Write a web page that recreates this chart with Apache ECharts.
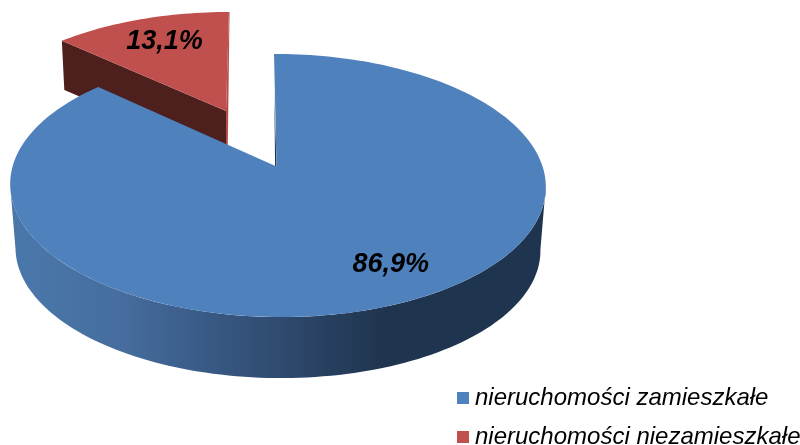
<!DOCTYPE html>
<html><head><meta charset="utf-8">
<style>html,body{margin:0;padding:0;background:#fff}#c{width:800px;height:445px}</style>
<script src="https://cdn.jsdelivr.net/npm/echarts@6/dist/echarts.min.js"></script>
</head><body><div id="c"></div>
<script>
const categories = ['nieruchomości zamieszkałe', 'nieruchomości niezamieszkałe'];
const values = [86.9, 13.1];
const topColors = ['#4f81bd', '#c0504d'];

const total = values.reduce((a, b) => a + b, 0);
const K = 0.1445;
const views = [
  {cx: 276.5, cy: 166.5, a: 265, b: 128.8, shear: -0.022, mx: 0.004, wallDy: 64, wallScale: 0.98, labelR: 0.77, labelDx: 21, labelDy: -3},
  {cx: 226, cy: 111, a: 249, b: 113.3, shear: 0.03, mx: 0, wallDy: 48, wallScale: 0.985, labelR: 0.72, labelDx: 2, labelDy: -1}
];
function project(v, deg, r, wall) {
  const t = deg * Math.PI / 180, x = r * Math.sin(t), y = r * Math.cos(t), D = 1 + K * y - v.mx * x;
  const s = wall ? v.wallScale : 1, Y = v.b * y / D * s, X = v.a * x / D * s;
  return [v.cx + X + v.shear * Y, v.cy - Y + (wall ? v.wallDy : 0)];
}
function arc(v, from, to, wall) {
  const pts = [], n = Math.max(2, Math.ceil(Math.abs(to - from) / 1.5));
  for (let i = 0; i <= n; i++) pts.push(project(v, from + (to - from) * i / n, 1, wall));
  return pts;
}
const wallGradient = {type: 'linear', x: 0, y: 0, x2: 1, y2: 0, colorStops: [
  {offset: 0, color: '#4a78ab'}, {offset: 0.2, color: '#466e9f'}, {offset: 0.35, color: '#3a5c88'},
  {offset: 0.5, color: '#2f4b70'}, {offset: 0.7, color: '#1f344e'}, {offset: 1, color: '#1f344e'}]};

function renderer(idx) {
  return function (params, api) {
    const v = views[idx];
    const start = values.slice(0, idx).reduce((a, b) => a + b, 0) / total * 360;
    const end = start + api.value(0) / total * 360;
    const apex = [v.cx, v.cy];
    const kids = [];
    if (idx === 0) {
      const w = Math.acos(-K) * 180 / Math.PI;
      const front = arc(v, w, 360 - w, false).concat(arc(v, 360 - w, w, true));
      kids.push({type: 'polygon', shape: {points: front}, style: {fill: wallGradient}});
      const top0 = project(v, start, 1, false);
      kids.push({type: 'polygon', shape: {points: [[top0[0] + 0.3, top0[1] + 40], apex, [apex[0] - 1.4, apex[1]]]}, style: {fill: '#1f344e'}});
    } else {
      const corner = project(v, start, 1, false), cornerB = project(v, start, 1, true);
      const apexB = project(v, start, 0, true);
      kids.push({type: 'polygon', shape: {points: [corner, apex, apexB, cornerB]}, style: {fill: '#4d1f1d'}});
      const tip = project(v, end, 1, false);
      kids.push({type: 'polygon', shape: {points: [tip, [tip[0] + 0.6, tip[1]], [apex[0] + 1.6, apexB[1]], [apex[0], apexB[1]], apex]}, style: {fill: '#b84c49'}});
    }
    kids.push({type: 'polygon', shape: {points: [apex].concat(arc(v, start, end, false))}, style: {fill: topColors[idx]}});
    const lp = project(v, (start + end) / 2, v.labelR, false);
    kids.push({type: 'text', style: {
      x: lp[0] + v.labelDx, y: lp[1] + v.labelDy,
      text: api.value(0).toFixed(1).replace('.', ',') + '%',
      fill: '#000', align: 'center', verticalAlign: 'middle',
      font: 'italic bold 27px "Liberation Sans", Arial, sans-serif'}});
    return {type: 'group', children: kids};
  };
}
const chart = echarts.init(document.getElementById('c'), null, {renderer: 'canvas'});
chart.setOption({
  animation: false,
  backgroundColor: '#fff',
  color: topColors,
  legend: {
    orient: 'vertical', left: 457, top: 386, height: 120, itemWidth: 12, itemHeight: 12, itemGap: 15,
    icon: 'rect', data: categories,
    textStyle: {fontFamily: '"Liberation Sans", Arial, sans-serif', fontStyle: 'italic', fontSize: 24, color: '#000', padding: [0, 0, 0, 1]},
    padding: 0, itemStyle: {borderWidth: 0}
  },
  series: categories.map((name, i) => ({
    type: 'custom', name, coordinateSystem: 'none', z: i === 0 ? 3 : 2,
    itemStyle: {color: topColors[i]}, silent: true,
    renderItem: renderer(i), data: [[values[i]]]
  }))
});
</script></body></html>
